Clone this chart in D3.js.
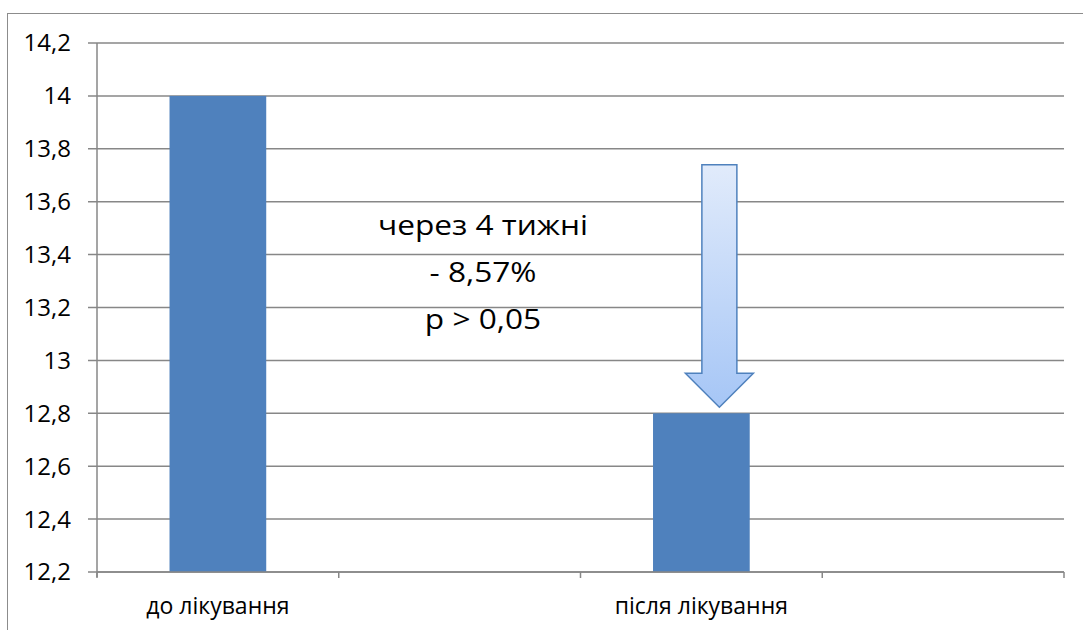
<!DOCTYPE html>
<html>
<head>
<meta charset="utf-8">
<script src="https://cdn.jsdelivr.net/npm/d3@7"></script>
<style>
  html, body { margin: 0; padding: 0; background: #fff; }
  svg { display: block; }
</style>
</head>
<body>
<svg id="chart" width="1083" height="630"></svg>
<script>
// Category slots along the x axis (two of them are left empty)
const categories = ["до лікування", "slot2", "після лікування", "slot4"];
const categoryLabels = ["до лікування", "", "після лікування", ""];
// Mean values for each slot (null = no bar)
const values = [14, null, 12.8, null];
// Y axis ticks
const yTicks = [12.2, 12.4, 12.6, 12.8, 13, 13.2, 13.4, 13.6, 13.8, 14, 14.2];
// Annotation lines
const noteLines = ["через 4 тижні", "- 8,57%", "p > 0,05"];

const svg = d3.select("#chart");
const fontFamily = "'Open Sans', 'Noto Sans', sans-serif";

// Outer chart frame
svg.append("rect")
  .attr("x", 7.5).attr("y", 13.5)
  .attr("width", 1100).attr("height", 700)
  .attr("fill", "none").attr("stroke", "#8c8c8c").attr("stroke-width", 1);

const plot = { left: 97, right: 1064, top: 43, bottom: 572 };

const x = d3.scaleBand().domain(categories).range([plot.left, plot.right]).padding(0);
const y = d3.scaleLinear().domain([12.2, 14.2]).range([plot.bottom, plot.top]);

const gridColor = "#878787";

// Horizontal gridlines
svg.append("g").selectAll("line").data(yTicks).join("line")
  .attr("x1", plot.left - 9).attr("x2", plot.right)
  .attr("y1", d => y(d)).attr("y2", d => y(d))
  .attr("stroke", gridColor).attr("stroke-width", 1.5);

// Y tick labels
svg.append("g").selectAll("text").data(yTicks).join("text")
  .attr("x", 71).attr("y", d => y(d))
  .attr("dy", "0.35em")
  .attr("text-anchor", "end")
  .attr("font-family", fontFamily).attr("font-size", 24)
  .attr("fill", "#000")
  .text(d => String(d).replace(".", ","));

// Bars
const barFrac = 0.4;
svg.append("g").selectAll("rect").data(categories.map((c, i) => ({ c, v: values[i] })).filter(d => d.v !== null))
  .join("rect")
  .attr("x", d => x(d.c) + x.bandwidth() * (1 - barFrac) / 2)
  .attr("width", x.bandwidth() * barFrac)
  .attr("y", d => y(d.v))
  .attr("height", d => y(12.2) - y(d.v))
  .attr("fill", "#4f81bd");

// Y axis line
svg.append("line")
  .attr("x1", plot.left).attr("x2", plot.left)
  .attr("y1", plot.top).attr("y2", plot.bottom + 5)
  .attr("stroke", gridColor).attr("stroke-width", 1.5);

// X axis line and tick marks between categories
svg.append("line")
  .attr("x1", plot.left).attr("x2", plot.right)
  .attr("y1", plot.bottom).attr("y2", plot.bottom)
  .attr("stroke", gridColor).attr("stroke-width", 1.5);
const xTickPos = categories.map(c => x(c)).concat([plot.right]);
svg.append("g").selectAll("line").data(xTickPos).join("line")
  .attr("x1", d => d).attr("x2", d => d)
  .attr("y1", plot.bottom).attr("y2", plot.bottom + 6)
  .attr("stroke", gridColor).attr("stroke-width", 1.5);

// Category labels
svg.append("g").selectAll("text").data(categories.map((c, i) => ({ c, label: categoryLabels[i] })))
  .join("text")
  .attr("x", d => x(d.c) + x.bandwidth() / 2)
  .attr("y", 614)
  .attr("text-anchor", "middle")
  .attr("font-family", fontFamily).attr("font-size", 23)
  .attr("fill", "#000")
  .text(d => d.label);

// Annotation text (slightly widened lettering)
svg.append("g").selectAll("text").data(noteLines).join("text")
  .attr("transform", (d, i) => `translate(483,${235 + i * 47}) scale(1.13,1)`)
  .attr("text-anchor", "middle")
  .attr("font-family", fontFamily).attr("font-size", 28)
  .attr("fill", "#000")
  .text(d => d);

// Down arrow pointing at the second bar
const defs = svg.append("defs");
const grad = defs.append("linearGradient").attr("id", "arrowFill")
  .attr("x1", 0).attr("y1", 0).attr("x2", 0).attr("y2", 1);
grad.append("stop").attr("offset", "0%").attr("stop-color", "#e1ebfb");
grad.append("stop").attr("offset", "100%").attr("stop-color", "#a6c6f6");

const cx = x(categories[2]) + x.bandwidth() / 2 + 18;
const tipY = y(values[2]) - 6;
const topY = y(13.74);
const shaftHalf = 17.5, headHalf = 34, headH = 34;
const arrowPath = d3.path();
arrowPath.moveTo(cx - shaftHalf, topY);
arrowPath.lineTo(cx + shaftHalf, topY);
arrowPath.lineTo(cx + shaftHalf, tipY - headH);
arrowPath.lineTo(cx + headHalf, tipY - headH);
arrowPath.lineTo(cx, tipY);
arrowPath.lineTo(cx - headHalf, tipY - headH);
arrowPath.lineTo(cx - shaftHalf, tipY - headH);
arrowPath.closePath();
svg.append("path")
  .attr("d", arrowPath.toString())
  .attr("fill", "url(#arrowFill)")
  .attr("stroke", "#4f81bd").attr("stroke-width", 1.5)
  .attr("stroke-linejoin", "miter");
</script>
</body>
</html>
